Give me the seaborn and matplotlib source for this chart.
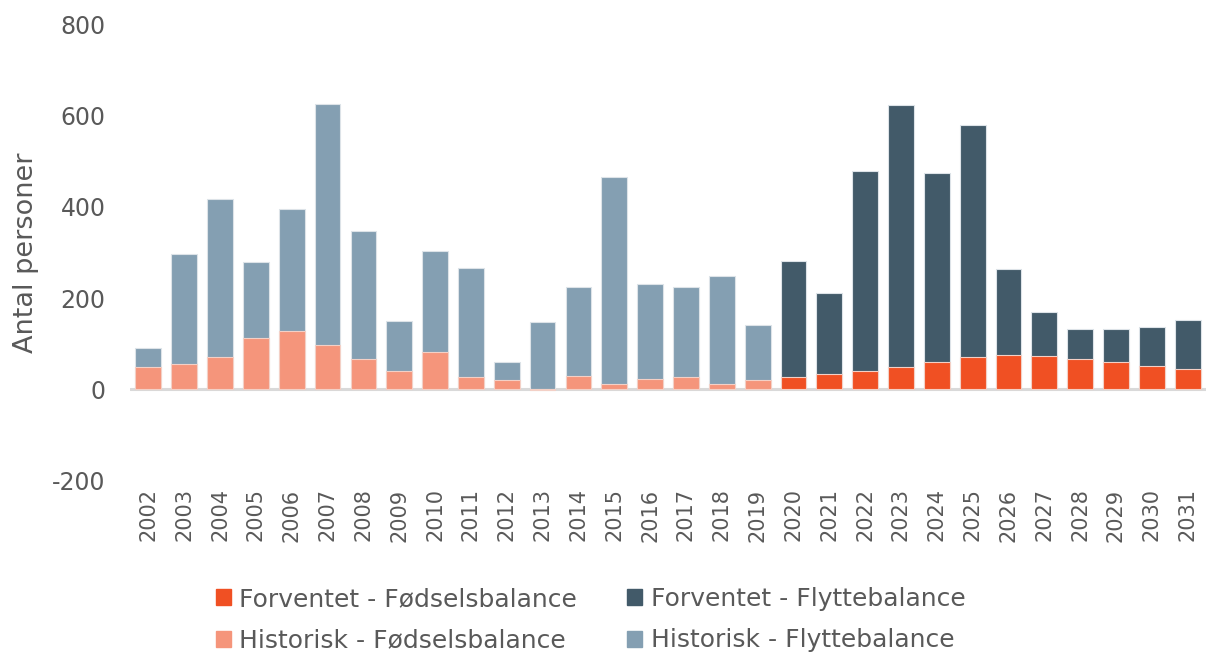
import matplotlib
matplotlib.use("Agg")
import matplotlib.pyplot as plt
from matplotlib.patches import Patch
import pandas as pd
import seaborn as sns

# Data
years = list(range(2002, 2032))
periode = ["Historisk"] * 18 + ["Forventet"] * 12
foedsel = [48, 55, 70, 112, 128, 97, 66, 39, 82, 27, 20, -3, 29, 11, 23, 27, 11, 20,
           27, 33, 39, 48, 60, 70, 75, 73, 67, 60, 51, 45]
total = [90, 297, 418, 279, 396, 627, 347, 150, 304, 267, 60, 147, 224, 465, 230, 224, 249, 141,
         282, 212, 478, 623, 474, 580, 264, 169, 131, 131, 137, 152]
flytte = [t - max(f, 0) for t, f in zip(total, foedsel)]

df = pd.DataFrame({
    "aar": [str(y) for y in years],
    "periode": periode,
    "foedsel": foedsel,
    "flytte": flytte,
})
df["top"] = df["flytte"] + df["foedsel"].clip(lower=0)

flyt_col = {"Historisk": "#849FB2", "Forventet": "#425A69"}
foed_col = {"Historisk": "#F5957B", "Forventet": "#F05023"}

sns.set_style("white")
plt.rcParams['font.family'] = ['DejaVu Sans']
plt.rcParams['axes.unicode_minus'] = False

fig = plt.figure(figsize=(12.08, 6.55), dpi=100)
ax = fig.add_axes([0.108, 0.267, 0.89, 0.695])

# migration stacked on births: draw total first, births over it
sns.barplot(data=df, x="aar", y="top", hue="periode", palette=flyt_col, dodge=False,
            saturation=1, width=0.72, edgecolor="#dde3e8", linewidth=0.8, legend=False, ax=ax)
sns.barplot(data=df, x="aar", y="foedsel", hue="periode", palette=foed_col, dodge=False,
            saturation=1, width=0.72, edgecolor="#f3d0c6", linewidth=0.8, legend=False, ax=ax)

ax.axhline(0, color="#d9d9d9", lw=2.2, zorder=0.5)
ax.set_ylim(-200, 800)
ax.set_xlim(-0.5, 29.5)
ax.set_yticks([-200, 0, 200, 400, 600, 800])
ax.tick_params(axis="y", labelsize=17, labelcolor="#595959", length=0, pad=18)
ax.tick_params(axis="x", labelsize=15, labelcolor="#595959", length=0, rotation=90, pad=6)
ax.set_xlabel("")
ax.set_ylabel("Antal personer", fontsize=19.5, color="#595959", labelpad=9)
for s in ax.spines.values():
    s.set_visible(False)

handles = [
    Patch(color=foed_col["Forventet"], label="Forventet - Fødselsbalance"),
    Patch(color=foed_col["Historisk"], label="Historisk - Fødselsbalance"),
    Patch(color=flyt_col["Forventet"], label="Forventet - Flyttebalance"),
    Patch(color=flyt_col["Historisk"], label="Historisk - Flyttebalance"),
]
leg = fig.legend(handles=handles, ncol=2, loc="center", bbox_to_anchor=(0.489, 0.054),
                 frameon=False, fontsize=18, handlelength=0.6, handleheight=0.6,
                 handletextpad=0.35, columnspacing=2.0, labelspacing=0.7)
for t in leg.get_texts():
    t.set_color("#595959")

fig.savefig("out.png", dpi=100)
